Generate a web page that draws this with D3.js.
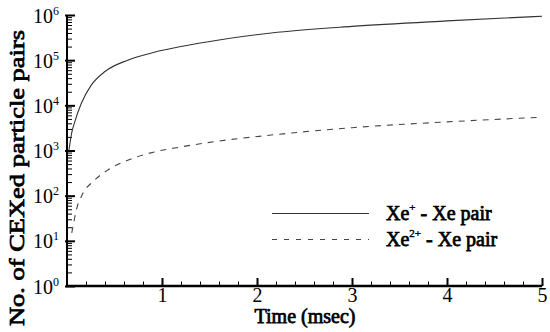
<!DOCTYPE html>
<html>
<head>
<meta charset="utf-8">
<script src="https://cdn.jsdelivr.net/npm/d3@7"></script>
<style>
  html, body { margin: 0; padding: 0; background: #fff; }
  svg { display: block; }
</style>
</head>
<body>
<div id="chart"></div>
<script>
const FONT = "Liberation Serif";

// time in msec
const timeXe1 = [0.02, 0.05, 0.08, 0.15, 0.25, 0.4, 0.64, 0.92, 1.2, 1.6, 2.15, 3.0, 4.0, 5.0];
const pairsXe1 = [1000, 2500, 4200, 11000, 27000, 56000, 100000, 150000, 200000, 280000, 400000, 560000, 740000, 940000];

const timeXe2 = [0.05, 0.07, 0.1, 0.15, 0.29, 0.43, 0.64, 0.92, 1.2, 1.6, 2.15, 3.0, 4.0, 4.95];
const pairsXe2 = [15, 25, 50, 95, 220, 370, 610, 930, 1200, 1620, 2200, 3200, 4300, 5400];

const xTicks = [1, 2, 3, 4, 5];
const yDecades = [1, 10, 100, 1000, 10000, 100000, 1000000];
const legendLabels = [
  { base: "Xe", sup: "+", rest: " - Xe pair" },
  { base: "Xe", sup: "2+", rest: " - Xe pair" }
];

const W = 550, H = 332;
const mLeft = 67, mRight = 542, mTop = 15, mBottom = 286;

const svg = d3.select("#chart").append("svg")
  .attr("width", W)
  .attr("height", H);

// serif text, bold drawn with a thin outline
const serif = (sel, bold) => sel
  .style("font-family", FONT)
  .style("font-weight", "normal")
  .attr("fill", "#000")
  .attr("stroke", bold ? "#000" : null)
  .attr("stroke-width", bold ? 0.75 : null);

const x = d3.scaleLinear().domain([0, 5]).range([mLeft, mRight]);
const y = d3.scaleLog().domain([1, 1e6]).range([mBottom, mTop]);

// minor ticks
const xMinor = d3.range(1, 25).map(i => i * 0.2).filter(v => Math.abs(v - Math.round(v)) > 1e-6);
const yMinor = [];
yDecades.slice(0, -1).forEach(d => { for (let k = 2; k <= 9; k++) yMinor.push(d * k); });

// x axis
svg.append("g")
  .attr("transform", `translate(0,${mBottom})`)
  .call(d3.axisBottom(x).tickValues(xMinor).tickSizeInner(-4.5).tickSizeOuter(0).tickFormat(""))
  .call(g => g.select(".domain").remove())
  .selectAll("line").attr("stroke", "#000").attr("stroke-width", 1);

const xMaj = svg.append("g")
  .attr("transform", `translate(0,${mBottom})`)
  .call(d3.axisBottom(x).tickValues(xTicks).tickSizeInner(-8).tickSizeOuter(0).tickFormat(d3.format("d")))
  .attr("font-family", null);
xMaj.select(".domain").remove();
xMaj.selectAll("line").attr("stroke", "#000").attr("stroke-width", 2);
xMaj.selectAll("text").attr("font-size", 20).attr("dy", 0).attr("y", 16).call(serif, false);

// y axis
svg.append("g")
  .attr("transform", `translate(${mLeft},0)`)
  .call(d3.axisLeft(y).tickValues(yMinor).tickSizeInner(-5).tickSizeOuter(0).tickFormat(""))
  .call(g => g.select(".domain").remove())
  .selectAll("line").attr("stroke", "#000").attr("stroke-width", 1);

const yMaj = svg.append("g")
  .attr("transform", `translate(${mLeft},0)`)
  .call(d3.axisLeft(y).tickValues(yDecades).tickSizeInner(-8).tickSizeOuter(0).tickPadding(8).tickFormat(""))
  .attr("font-family", null);
yMaj.select(".domain").remove();
yMaj.selectAll("line").attr("stroke", "#000").attr("stroke-width", 2).attr("x1", -2);
yMaj.selectAll(".tick text")
  .attr("font-size", 20).attr("dy", 0).attr("y", 7)
  .call(serif, false)
  .each(function(d) {
    const t = d3.select(this);
    t.text("10");
    t.append("tspan").attr("font-size", 12).attr("dy", -8).text(Math.round(Math.log10(d)));
  });

// axis lines
svg.append("line").attr("x1", mLeft).attr("x2", mLeft).attr("y1", mTop).attr("y2", mBottom + 1)
  .attr("stroke", "#000").attr("stroke-width", 2);
svg.append("line").attr("x1", mLeft - 1).attr("x2", mRight).attr("y1", mBottom).attr("y2", mBottom)
  .attr("stroke", "#000").attr("stroke-width", 2.5);

// curves
const line = d3.line()
  .x(d => x(d[0]))
  .y(d => y(d[1]))
  .curve(d3.curveMonotoneX);

svg.append("path")
  .datum(d3.zip(timeXe1, pairsXe1))
  .attr("d", line)
  .attr("fill", "none")
  .attr("stroke", "#333")
  .attr("stroke-width", 1.1);

svg.append("path")
  .datum(d3.zip(timeXe2, pairsXe2))
  .attr("d", line)
  .attr("fill", "none")
  .attr("stroke", "#444")
  .attr("stroke-width", 1.1)
  .attr("stroke-dasharray", "6,6");

// legend
const leg = svg.append("g");
legendLabels.forEach((l, i) => {
  const ly = 213.5 + i * 26;
  leg.append("line")
    .attr("x1", 272).attr("x2", 369).attr("y1", ly).attr("y2", ly)
    .attr("stroke", i ? "#444" : "#333").attr("stroke-width", 1.1)
    .attr("stroke-dasharray", i ? "5,7" : null);
  const t = leg.append("text")
    .attr("x", 386).attr("y", ly + 6)
    .attr("font-size", 20)
    .call(serif, true);
  t.append("tspan").text(l.base);
  t.append("tspan").attr("font-size", 11).attr("stroke-width", 0.4).attr("dy", -9).text(l.sup);
  t.append("tspan").attr("dy", 9).text(l.rest);
});

// axis titles
svg.append("text")
  .attr("x", (252 + 358) / 2).attr("y", 323)
  .attr("text-anchor", "middle")
  .attr("font-size", 20)
  .call(serif, true)
  .text("Time (msec)");

svg.append("text")
  .attr("transform", "translate(24,178) rotate(-90)")
  .attr("text-anchor", "middle")
  .attr("font-size", 21)
  .call(serif, true)
  .attr("textLength", 296).attr("lengthAdjust", "spacingAndGlyphs")
  .text("No. of CEXed particle pairs");
</script>
</body>
</html>
